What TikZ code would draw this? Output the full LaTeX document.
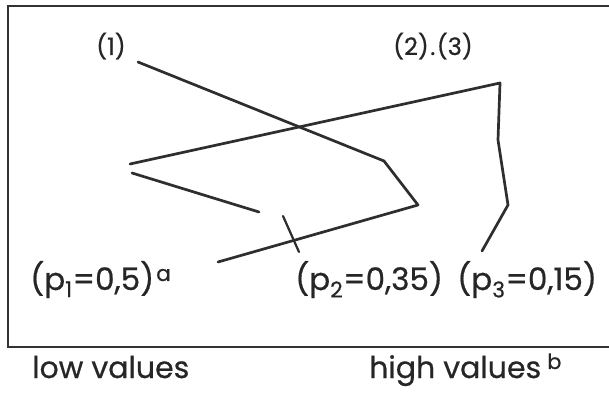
\documentclass[tikz,border=0pt]{standalone}
\usepackage{fontspec}
\setmainfont{Poppins}[FakeBold=0.6]
\begin{document}
\begin{tikzpicture}[x=1pt,y=-1pt,
  trace/.style={line width=2.7pt, draw=black!82, line join=round, line cap=round},
  frame/.style={line width=1.6pt, draw=black!80},
  lab/.style={inner sep=0pt, anchor=base west, text=black!85},
  big/.style={font=\fontsize{31}{31}\selectfont},
  mid/.style={font=\fontsize{30}{30}\selectfont},
  small/.style={font=\fontsize{24}{24}\selectfont}]
\useasboundingbox (0,0) rectangle (609,396);
% frame (top, left, bottom)
\draw[frame] (609,6) -- (8,6) -- (8,347) -- (609,347);
% labels
\node[lab,small] (l1) at (96,55) {(1)};
\node[lab,small] (l23) at (393,55) {(2)\kern1.5pt.\kern1.5pt(3)};
\node[lab,big] (p1) at (30,290) {(p\textsubscript{1}=0,5)\kern2pt\textsuperscript{a}};
\node[lab,big] (p2) at (295,290) {(p\textsubscript{2}=0,35)};
\node[lab,big] (p3) at (457,290) {(p\textsubscript{3}=0,15)};
\node[lab,mid] (lo) at (32,378) {low values};
\node[lab,mid] (hi) at (369,378) {high values\kern6pt\textsuperscript{b}};
% trace (1)
\coordinate (a0) at (138,62);
\coordinate (a1) at (384,161);
\coordinate (a2) at (418,205);
\coordinate (a3) at (218,262);
\draw[trace] (a0) -- (a1) -- (a2) -- (a3);
% tick on trace (1)
\coordinate (t0) at (283,216);
\coordinate (t1) at (299,252);
\draw[trace, line width=2.2pt] (t0) -- (t1);
% trace (2)
\coordinate (b0) at (130,164);
\coordinate (b1) at (500,83);
\coordinate (b2) at (498,140);
\coordinate (b3) at (508,205);
\coordinate (b4) at (482,251);
\draw[trace] (b0) -- (b1) -- (b2) -- (b3) -- (b4);
% trace (3)
\coordinate (c0) at (132,173);
\coordinate (c1) at (259,212);
\draw[trace] (c0) -- (c1);
\end{tikzpicture}
\end{document}
